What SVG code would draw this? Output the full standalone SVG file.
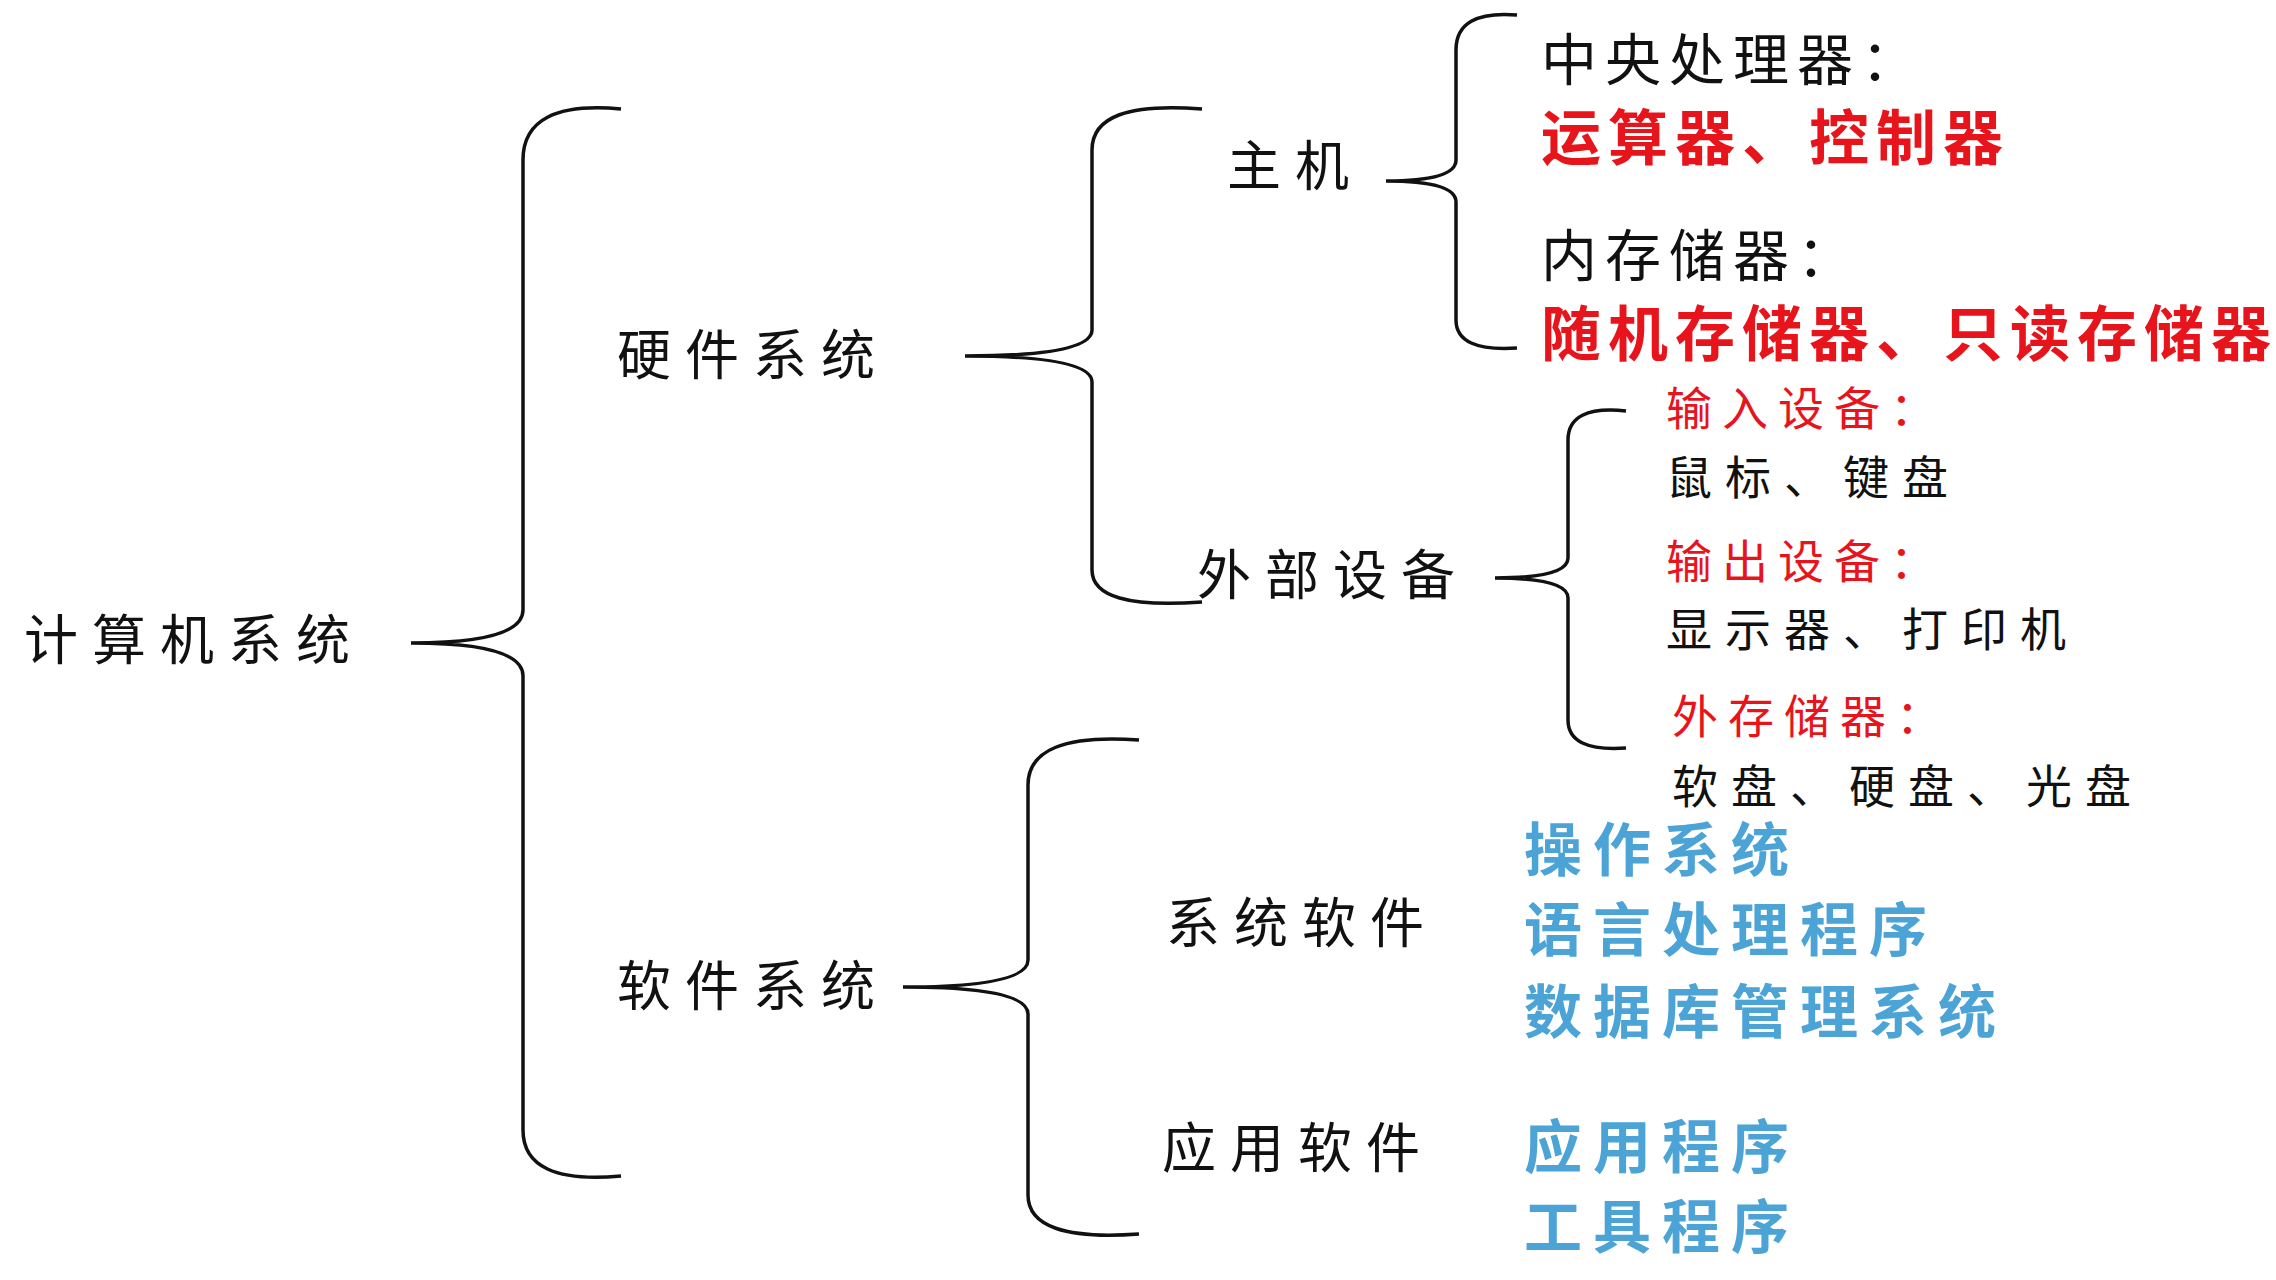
<svg xmlns="http://www.w3.org/2000/svg" width="2276" height="1280" viewBox="0 0 2276 1280">
<style>
text{font-family:"Noto Sans CJK SC","Noto Sans",sans-serif;}
.n{font-size:54px;fill:#111;letter-spacing:14px;}
.k{font-size:56px;fill:#111;letter-spacing:8px;}
.r{font-size:60px;fill:#e8141c;font-weight:bold;letter-spacing:7px;}
.s{font-size:46px;fill:#e8141c;letter-spacing:10px;}
.t{font-size:46px;fill:#111;letter-spacing:13px;}
.b{font-size:58px;fill:#4ba3d6;font-weight:bold;letter-spacing:11px;}
.br{fill:none;stroke:#111;stroke-width:3.5;}
</style>
<rect width="2276" height="1280" fill="#fff"/>
<g id="connectors">
<path class="br" d="M621 109 Q523 100 523 160 L523 610 Q523 643 411 643 Q523 643 523 676 L523 1130 Q523 1185 621 1176"/>
<path class="br" d="M1202 109 Q1092 100 1092 150 L1092 330 Q1092 356 965 356 Q1092 356 1092 382 L1092 570 Q1092 610 1202 602"/>
<path class="br" d="M1139 740 Q1028 732 1028 785 L1028 960 Q1028 987 903 987 Q1028 987 1028 1014 L1028 1195 Q1028 1242 1139 1234"/>
<path class="br" d="M1517 15 Q1456 10 1456 50 L1456 160 Q1456 181 1386 181 Q1456 181 1456 202 L1456 320 Q1456 352 1517 348"/>
<path class="br" d="M1626 411 Q1568 405 1568 440 L1568 558 Q1568 578 1495 578 Q1568 578 1568 598 L1568 720 Q1568 752 1626 748"/>
</g>
<g id="root"><text class="n" x="24" y="660">计算机系统</text></g>
<g id="hw"><text class="n" x="617" y="375">硬件系统</text></g>
<g id="sw"><text class="n" x="617" y="1006">软件系统</text></g>
<g id="host"><text class="n" x="1227" y="186">主机</text></g>
<g id="ext"><text class="n" x="1197" y="595">外部设备</text></g>
<g id="cpu"><text class="k" x="1541" y="80">中央处理器：</text><text class="r" x="1541" y="160">运算器、控制器</text></g>
<g id="mem"><text class="k" x="1541" y="276">内存储器：</text><text class="r" x="1541" y="356">随机存储器、只读存储器</text></g>
<g id="in"><text class="s" x="1666" y="425">输入设备：</text><text class="t" x="1666" y="494">鼠标、键盘</text></g>
<g id="out"><text class="s" x="1666" y="578">输出设备：</text><text class="t" x="1666" y="646">显示器、打印机</text></g>
<g id="store"><text class="s" x="1672" y="733">外存储器：</text><text class="t" x="1672" y="803">软盘、硬盘、光盘</text></g>
<g id="syssw"><text class="n" x="1166" y="943">系统软件</text></g>
<g id="appsw"><text class="n" x="1162" y="1168">应用软件</text></g>
<g id="sysitems"><text class="b" x="1524" y="871">操作系统</text><text class="b" x="1524" y="951">语言处理程序</text><text class="b" x="1524" y="1033">数据库管理系统</text></g>
<g id="appitems"><text class="b" x="1524" y="1168">应用程序</text><text class="b" x="1524" y="1248">工具程序</text></g>
</svg>
